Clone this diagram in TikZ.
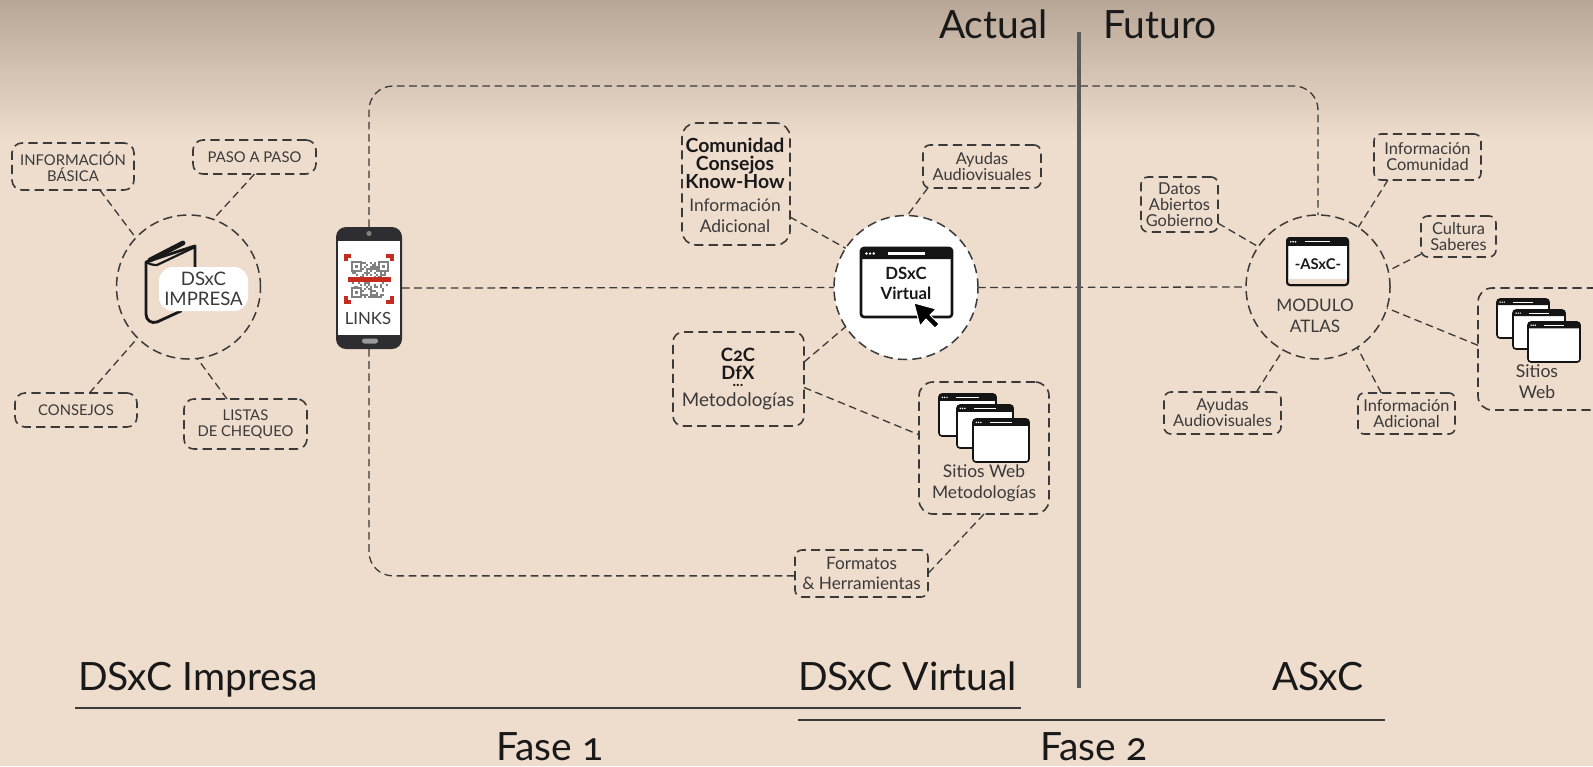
\documentclass[tikz,border=0pt]{standalone}
\usepackage{fontspec}
\setmainfont[Numbers=OldStyle]{Lato}
\usetikzlibrary{calc}
\definecolor{bgbase}{HTML}{EEDCCD}
\definecolor{bgtop}{HTML}{B8A797}
\definecolor{ink}{HTML}{3A3A3A}
\definecolor{phonegray}{HTML}{2E2E32}
\definecolor{qrred}{HTML}{C62B20}
\definecolor{divgray}{HTML}{5A5A5A}
\tikzset{
  boxd/.style={draw=ink,line width=.8pt,dash pattern=on 4.6pt off 2.6pt,rounded corners=5pt,inner sep=0pt,outer sep=0pt,align=center,text=ink},
  conn/.style={draw=ink,line width=.65pt,dash pattern=on 3.8pt off 2.3pt},
  loopline/.style={conn,rounded corners=12pt},
  ring/.style={circle,draw=ink,line width=.75pt,dash pattern=on 4.6pt off 2.6pt,minimum size=72pt,inner sep=0pt,outer sep=0pt},
  capsf/.style={font=\fontsize{7.4}{8}\selectfont},
  regf/.style={font=\fontsize{8.2}{8}\selectfont},
  midf/.style={font=\fontsize{8.7}{10.5}\selectfont},
  boldf/.style={font=\fontsize{9.7}{9}\selectfont\bfseries},
  txt/.style={inner sep=0pt,outer sep=0pt,align=center,text=ink},
  btxt/.style={inner sep=0pt,outer sep=0pt,align=center,text=black!90},
  bigt/.style={inner sep=0pt,outer sep=0pt,anchor=base west,text=black!90,font=\fontsize{19.5}{21}\selectfont},
  rulef/.style={draw=ink,line width=.7pt},
  corner/.style={draw=qrred,line width=2pt},
}
% window icon: x1 y1 x2 y2 line width
\newcommand{\webwin}[5]{%
  \pgfmathsetmacro{\wW}{#3-#1}\pgfmathsetmacro{\wH}{#4-#2}%
  \fill[white,rounded corners=1pt] (#1,#2) rectangle (#3,#4);
  \fill[black!92,rounded corners=.8pt] (#1,#2) rectangle (#3,#2+.16*\wH);
  \fill[black!92] (#1,#2+.08*\wH) rectangle (#3,#2+.16*\wH);
  \foreach \dd in {.06,.1,.14}{\fill[white] (#1+\dd*\wW,#2+.08*\wH) circle (.018*\wH+.1);}
  \fill[white] (#1+.3*\wW,#2+.065*\wH) rectangle (#1+.7*\wW,#2+.095*\wH);
  \draw[black!92,line width=#5,rounded corners=1.5pt] (#1,#2) rectangle (#3,#4);
}
\begin{document}
\begin{tikzpicture}[x=.5pt,y=-.5pt]
\useasboundingbox (0,0) rectangle (1593,766);
\clip (0,0) rectangle (1593,766);
\fill[bgbase] (0,0) rectangle (1593,766);
\shade[top color=bgtop,bottom color=bgbase] (0,0) rectangle (1593,140);

% --- circles
\node[ring] (c1) at (188.5,287) {};
\node[ring,fill=white] (c2) at (906,287.5) {};
\node[ring] (c3) at (1318,287) {};

% --- boxes, column 1
\node[boxd,capsf,minimum width=61pt,minimum height=23.5pt] (infob) at (73,166.5) {INFORMACIÓN\\BÁSICA};
\node[boxd,capsf,minimum width=61.5pt,minimum height=17pt] (paso) at (254.5,157) {PASO A PASO};
\node[boxd,capsf,minimum width=61pt,minimum height=17pt] (cons) at (76,410) {CONSEJOS};
\node[boxd,capsf,minimum width=61.5pt,minimum height=25pt] (list) at (245.5,424) {LISTAS\\DE CHEQUEO};

% --- boxes, column 2
\node[boxd,rounded corners=7pt,minimum width=54pt,minimum height=61pt] (comu) at (736,184) {};
\node[btxt,boldf] (comut) at (735,163.5) {\baselineskip=9pt Comunidad\\Consejos\\Know-How};
\node[txt,midf] (comur) at (735,215.5) {Información\\Adicional};
\node[boxd,regf,rounded corners=3.5pt,minimum width=59pt,minimum height=21.5pt] (ayu2) at (982,166.5) {Ayudas\\Audiovisuales};
\node[boxd,minimum width=65.5pt,minimum height=47pt] (c2c) at (738.5,379) {};
\node[btxt,anchor=north,font=\fontsize{9.2}{9}\selectfont\bfseries] (c2ct) at (738,348.5) {C2C\\DfX\\[-5.5pt]{\fontsize{7.5}{8}\selectfont ...}};
\node[txt,font=\fontsize{9.4}{10}\selectfont] (c2cm) at (738,401) {Metodologías};
\node[boxd,rounded corners=7pt,minimum width=65pt,minimum height=66pt] (sw2) at (984,448) {};
\node[txt,midf] (sw2t) at (984,483.5) {Sitios Web\\Metodologías};
\node[boxd,regf,rounded corners=3.5pt,font=\fontsize{8.6}{10}\selectfont,minimum width=66.5pt,minimum height=23.5pt] (form) at (861.5,573.5) {Formatos\\\& Herramientas};

% --- boxes, column 3
\node[boxd,regf,rounded corners=3.5pt,minimum width=38.5pt,minimum height=27.5pt] (dato) at (1179.5,204.5) {Datos\\Abiertos\\Gobierno};
\node[boxd,regf,rounded corners=3.5pt,minimum width=53.5pt,minimum height=23pt] (icom) at (1427.5,157) {Información\\Comunidad};
\node[boxd,regf,rounded corners=3.5pt,minimum width=37.5pt,minimum height=20.5pt] (cult) at (1458.5,236.5) {Cultura\\Saberes};
\node[boxd,rounded corners=7pt,minimum width=66pt,minimum height=61pt] (sw3) at (1544,349) {};
\node[txt,font=\fontsize{8.8}{10.4}\selectfont] (sw3t) at (1537,382) {Sitios\\Web};
\node[boxd,regf,rounded corners=3.5pt,minimum width=58.5pt,minimum height=21pt] (ayu3) at (1222.5,413) {Ayudas\\Audiovisuales};
\node[boxd,regf,rounded corners=3pt,minimum width=48.5pt,minimum height=20.5pt] (iadi) at (1406.5,413.5) {Información\\Adicional};

% --- phone
\node[fill=phonegray,rounded corners=5pt,minimum width=33pt,minimum height=61pt,inner sep=0pt,outer sep=0pt] (phone) at (369,288) {};
\node[fill=white,minimum width=31pt,minimum height=47pt,inner sep=0pt,outer sep=0pt] (screen) at (369,288) {};
\fill[gray] (369,233.5) circle (2.6);
\fill[black!40,rounded corners=1.2pt] (362,338.5) rectangle (378,343.5);
\begin{scope}
  \pgfmathsetseed{11}
  \foreach \i in {0,...,17}{\foreach \j in {0,...,17}{%
    \pgfmathsetmacro{\rr}{int(rnd*1.8)}
    \ifnum\rr=1 \fill[black!50] (352+2*\i,262+2*\j) rectangle +(2,2);\fi}}
  \foreach \qx/\qy in {352/262,379/262,352/288}{%
    \fill[white] (\qx-1,\qy-1) rectangle +(11,11);
    \draw[black!50,line width=.6pt] (\qx,\qy) rectangle +(9,9);
    \fill[black!50] (\qx+2.8,\qy+2.8) rectangle +(3.4,3.4);}
\end{scope}
\draw[corner] (345.5,261) -- (345.5,255.5) -- (351,255.5);
\draw[corner] (386,255.5) -- (392,255.5) -- (392,261);
\draw[corner] (345.5,296) -- (345.5,302) -- (351,302);
\draw[corner] (386,302) -- (392,302) -- (392,296);
\fill[qrred] (348,276.5) rectangle (391,281.5);
\node[txt,font=\fontsize{8.4}{10}\selectfont] (links) at (368,318) {LINKS};

% --- book
\begin{scope}[line cap=round,line join=round]
  \draw[black!90,line width=1.4pt] (181,311) -- (157,322) .. controls (151,324) and (146,320) .. (146,314) -- (146,262) -- (193,246.5) -- (195,246) -- (195,268);
  \draw[black!90,line width=1.1pt] (146,262) .. controls (149,264) and (152,265) .. (157,265) -- (195,247);
  \draw[black!90,line width=2.4pt] (150,260) -- (183,243);
\end{scope}
\node[fill=white,rounded corners=7pt,minimum width=44.5pt,minimum height=22pt,inner sep=0pt,outer sep=0pt,align=center,text=ink,font=\fontsize{9.3}{10}\selectfont] (bookl) at (203.5,289) {DSxC\\IMPRESA};

% --- window icons
\webwin{861}{248}{952}{317}{1.3pt}
\node[btxt,font=\fontsize{8.4}{10}\selectfont\bfseries] (virt) at (906,283.5) {DSxC\\Virtual};
\fill[black,draw=white,line width=.5pt,line join=round] (914,303) -- (936,309) -- (930,315) -- (939,324) -- (935,328) -- (926,319) -- (920,326) -- cycle;
\webwin{1287}{238}{1348}{285}{1pt}
\fill[bgbase] (1288,279) rectangle (1347,284);
\draw[black!92,line width=1pt,rounded corners=1.5pt] (1287,238) rectangle (1348,285);
\node[btxt,font=\fontsize{7.4}{9}\selectfont\bfseries] (asxc) at (1318,264) {-ASxC-};
\node[txt,font=\fontsize{8.6}{10.4}\selectfont] (modu) at (1315,315.5) {MODULO\\ATLAS};
\webwin{939}{394}{996}{436}{.8pt}
\webwin{957}{405}{1013}{448}{.8pt}
\webwin{973}{419}{1029}{462}{.8pt}
\webwin{1497}{299}{1549}{338}{.8pt}
\webwin{1513}{310}{1565}{349}{.8pt}
\webwin{1528}{322}{1580}{362}{.8pt}

% --- connectors
\coordinate (looptop) at (800,86);
\draw[loopline] (phone.north) |- (looptop) -| (c3.north);
\draw[loopline] (phone.south) |- ($(form.north west)!.55!(form.south west)$);
\draw[conn] (phone.east) -- (c2.west);
\draw[conn] (c2.east) -- (c3.west);
\draw[conn] ($(infob.south west)!.72!(infob.south east)$) -- (c1.137);
\draw[conn] (paso.south) -- (c1.70);
\draw[conn] ($(cons.north west)!.61!(cons.north east)$) -- (c1.225);
\draw[conn] ($(list.north west)!.35!(list.north east)$) -- (c1.277);
\draw[conn] ($(comu.north east)!.77!(comu.south east)$) -- (c2.147);
\draw[conn] ($(ayu2.south west)!.04!(ayu2.south east)$) -- (c2.89);
\draw[conn] ($(c2c.north east)!.32!(c2c.south east)$) -- (c2.213);
\draw[conn] ($(c2c.north east)!.59!(c2c.south east)$) -- ($(sw2.north west)!.40!(sw2.south west)$);
\draw[conn] (sw2.south) -- (form.east);
\draw[conn] ($(dato.north east)!.84!(dato.south east)$) -- (c3.146);
\draw[conn] ($(icom.south west)!.13!(icom.south east)$) -- (c3.56);
\draw[conn] ($(cult.north west)!.93!(cult.south west)$) -- (c3.13);
\draw[conn] ($(sw3.north west)!.47!(sw3.south west)$) -- (c3.343);
\draw[conn] ($(ayu3.north west)!.79!(ayu3.north east)$) -- (c3.241);
\draw[conn] ($(iadi.north west)!.24!(iadi.north east)$) -- (c3.303);

% --- divider and labels
\coordinate (divt) at (1079,32);
\coordinate (divb) at (1079,688);
\draw[divgray,line width=2pt] (divt) -- (divb);
\node[bigt] (actual) at (939,38) {Actual};
\node[bigt] (futuro) at (1103,38) {Futuro};
\node[bigt] (limp) at (78,690) {DSxC Impresa};
\node[bigt] (lvir) at (798,690) {DSxC Virtual};
\node[bigt] (lasx) at (1272,690) {ASxC};
\coordinate (r1a) at (75,708); \coordinate (r1b) at (1021,708);
\coordinate (r2a) at (798,720); \coordinate (r2b) at (1385,720);
\draw[rulef] (r1a) -- (r1b);
\draw[rulef] (r2a) -- (r2b);
\node[bigt] (f1) at (496,760) {Fase 1};
\node[bigt] (f2) at (1040,760) {Fase 2};
\end{tikzpicture}
\end{document}
